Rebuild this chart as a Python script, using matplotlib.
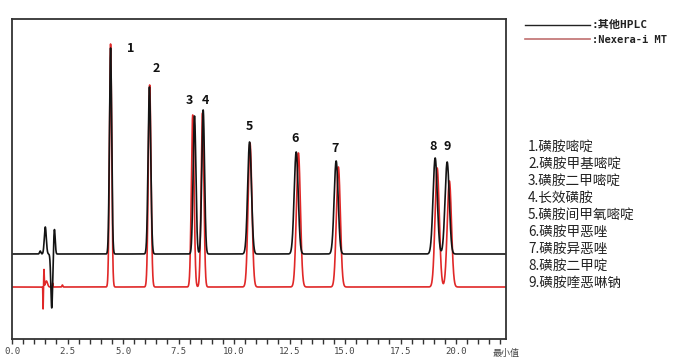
import numpy as np
import matplotlib
matplotlib.use("Agg")
import matplotlib.pyplot as plt

plt.rcParams['font.family'] = ['Noto Sans CJK SC', 'DejaVu Sans']

# 峰参数 (保留时间 min, 峰高, 峰宽 sigma)
peak_no = ['1', '2', '3', '4', '5', '6', '7', '8', '9']
t_black = [4.44, 6.19, 8.22, 8.61, 10.70, 12.80, 14.60, 19.06, 19.60]
h_black = [206, 167, 138, 144, 112, 102, 93, 96, 92]
t_red = [4.44, 6.20, 8.14, 8.58, 10.72, 12.90, 14.70, 19.15, 19.70]
h_red = [243, 202, 172, 174, 144, 134, 120, 119, 106]
sigma = [0.05, 0.06, 0.062, 0.062, 0.085, 0.09, 0.09, 0.095, 0.095]

# 溶剂峰扰动 (时间, 高度, 宽度)
dist_black_t = [1.27, 1.50, 1.79, 1.91]
dist_black_h = [3, 27, -54, 25]
dist_black_w = [0.03, 0.045, 0.04, 0.035]
dist_red_t = [1.40, 1.44, 1.55, 1.83, 2.27]
dist_red_h = [-22, 17, 6, 4, 2]
dist_red_w = [0.008, 0.01, 0.05, 0.012, 0.02]

base_black = 85
base_red = 52

# 峰号标注位置
lab_x = [5.35, 6.5, 8.0, 8.7, 10.7, 12.75, 14.55, 18.95, 19.6]
lab_y = [290, 270, 238, 238, 213, 201, 191, 192, 192]

compounds = ['1.磺胺嘧啶', '2.磺胺甲基嘧啶', '3.磺胺二甲嘧啶', '4.长效磺胺',
             '5.磺胺间甲氧嘧啶', '6.磺胺甲恶唑', '7.磺胺异恶唑', '8.磺胺二甲啶',
             '9.磺胺喹恶啉钠']

x = np.arange(0, 22.3, 0.002)


def trace(base, ts, hs, ws):
    y = np.full_like(x, base, dtype=float)
    for t, h, w in zip(ts, hs, ws):
        y += h * np.exp(-0.5 * ((x - t) / w) ** 2)
    return y


y_black = trace(base_black, t_black + dist_black_t, h_black + dist_black_h,
                sigma + dist_black_w)
y_red = trace(base_red, t_red + dist_red_t, h_red + dist_red_h,
              sigma + dist_red_w)

fig = plt.figure(figsize=(6.9, 3.62), dpi=100)
ax = fig.add_axes([12 / 690, 23 / 362, 494 / 690, 320 / 362])

ax.plot(x, y_red, color='#e02828', lw=1.2)
ax.plot(x, y_black, color='#141414', lw=1.2)

ax.set_xlim(0, 22.25)
ax.set_ylim(0, 320)
ax.set_xticks(np.arange(0, 21, 2.5))
ax.set_xticklabels(['%.1f' % v for v in np.arange(0, 21, 2.5)],
                   family='DejaVu Sans Mono', fontsize=6.5, color='#444444')
ax.set_xticks(np.arange(0, 22.1, 0.5), minor=True)
ax.tick_params(axis='x', which='both', direction='out', length=3.5,
               width=1, color='#333333', pad=2.5)
ax.set_yticks([])
for s in ax.spines.values():
    s.set_color('#333333')
    s.set_linewidth(1.3)

ax.text(1.0, -0.03, '最小值', transform=ax.transAxes, ha='center', va='top',
        fontsize=6.5, color='#444444')

for n, lx, ly in zip(peak_no, lab_x, lab_y):
    ax.text(lx, ly, n, ha='center', va='center', fontsize=9,
            fontweight='bold', color='#111111')

# 图例
fig.add_artist(plt.Line2D([525 / 690, 590 / 690], [1 - 25 / 362, 1 - 25 / 362],
                          color='#222222', lw=1))
fig.add_artist(plt.Line2D([525 / 690, 590 / 690], [1 - 39 / 362, 1 - 39 / 362],
                          color='#c07070', lw=1.2))
fig.text(592 / 690, 1 - 25 / 362, ':其他HPLC', va='center', fontsize=8,
         family=['DejaVu Sans Mono', 'Noto Sans CJK SC'], color='#222222',
         fontweight='bold')
fig.text(592 / 690, 1 - 40 / 362, ':Nexera-i MT', va='center', fontsize=7.5,
         family=['DejaVu Sans Mono', 'Noto Sans CJK SC'], color='#222222',
         fontweight='bold')

for i, c in enumerate(compounds):
    fig.text(528 / 690, 1 - (147 + 17 * i) / 362, c, va='center',
             fontsize=9.8, color='#222222')

fig.savefig('out.png', dpi=100)
